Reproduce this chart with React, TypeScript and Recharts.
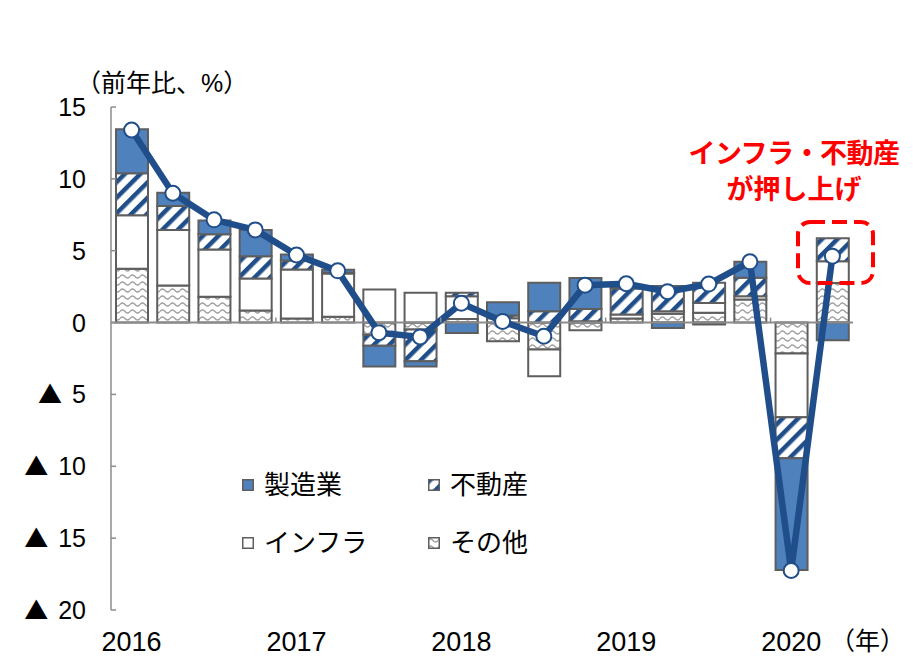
import { ComposedChart, Bar, Line, XAxis, YAxis, ReferenceLine } from 'recharts';

// 四半期（2016Q1〜2020Q2）
const quarters = [
  '2016Q1', '2016Q2', '2016Q3', '2016Q4',
  '2017Q1', '2017Q2', '2017Q3', '2017Q4',
  '2018Q1', '2018Q2', '2018Q3', '2018Q4',
  '2019Q1', '2019Q2', '2019Q3', '2019Q4',
  '2020Q1', '2020Q2',
];
// 寄与度（％ポイント）
const manufacturing = [3.07, 0.93, 0.97, 1.82, 0.42, 0.21, -1.44, -0.35, -0.72, 0.92, 1.98, 2.15, 0.1, -0.37, -0.14, 1.11, -7.78, -1.23];
const realEstate = [2.93, 1.67, 1.05, 1.55, 0.62, 0.05, -0.77, -2.21, 0.24, 0.2, 0.79, 0.85, 1.81, 1.76, 1.4, 1.28, -2.86, 1.59];
const infrastructure = [3.72, 3.86, 3.3, 2.23, 3.42, 3.02, 2.3, 2.07, 1.58, 0.3, -1.86, 0.1, 0.28, 0.18, 0.69, 0.24, -4.42, 1.52];
const others = [3.74, 2.58, 1.79, 0.84, 0.28, 0.4, -0.84, -0.49, 0.25, -1.3, -1.88, -0.54, 0.28, 0.61, 0.68, 1.6, -2.16, 2.75];
// 固定資産投資（前年比）
const total = [13.4, 9.0, 7.15, 6.45, 4.7, 3.6, -0.7, -1.0, 1.35, 0.08, -0.95, 2.6, 2.7, 2.15, 2.68, 4.23, -17.25, 4.62];

const yTicks = [15, 10, 5, 0, -5, -10, -15, -20];

const data = quarters.map((q, i) => ({
  q,
  mfg: manufacturing[i],
  re: realEstate[i],
  infra: infrastructure[i],
  other: others[i],
  total: total[i],
}));

const FONT = '"Liberation Sans", Arial, "Noto Sans CJK JP", sans-serif';
const CJK = '"Noto Sans CJK JP", sans-serif';
const BLUE = '#4F81BD';
const NAVY = '#1F4E8A';
const EDGE = '#5E5E5E';
const AXIS = '#8C8C8C';

// layout
const W = 913;
const H = 659;
const MARGIN = { top: 107, right: 60, bottom: 9, left: 0 };
const AXIS_X = 111;
const X_AXIS_H = 40;
const PLOT_W = W - MARGIN.right - AXIS_X;
const PLOT_H = H - MARGIN.top - MARGIN.bottom - X_AXIS_H;
const Y_MAX = 15;
const Y_MIN = -20;
const ZERO_Y = MARGIN.top + (Y_MAX / (Y_MAX - Y_MIN)) * PLOT_H;
const HALF_BAND = PLOT_W / quarters.length / 2;

function YTick({ y, payload }: any) {
  const v = payload.value as number;
  return (
    <g>
      <line x1={AXIS_X} x2={AXIS_X + 5} y1={y} y2={y} stroke={AXIS} strokeWidth={1.5} />
      <text x={AXIS_X - 25} y={y} dy="0.36em" textAnchor="end" fontSize={25} fill="#000" fontFamily={FONT}>
        {v < 0 && <tspan fontFamily={CJK} fontSize={24}>▲</tspan>}
        <tspan dx={v < 0 ? 10 : 0}>{Math.abs(v)}</tspan>
      </text>
    </g>
  );
}

function XTick({ x, y, payload, index }: any) {
  const q = payload.value as string;
  if (!q.endsWith('Q1')) return <g />;
  return (
    <g>
      {index > 0 && (
        <line x1={x - HALF_BAND} x2={x - HALF_BAND} y1={ZERO_Y} y2={ZERO_Y - 5} stroke={AXIS} strokeWidth={1.5} />
      )}
      <text x={x} y={y} dy={41} textAnchor="middle" fontSize={27} fill="#000" fontFamily={FONT}>
        {q.slice(0, 4)}
      </text>
    </g>
  );
}

function Swatch({ fill }: { fill: string }) {
  return (
    <svg width={12} height={12} style={{ display: 'block' }}>
      <rect x={0.75} y={0.75} width={10.5} height={10.5} fill={fill} stroke={EDGE} strokeWidth={1.5} />
    </svg>
  );
}

function LegendItem({ left, top, fill, label }: { left: number; top: number; fill: string; label: string }) {
  return (
    <div style={{ position: 'absolute', left, top, height: 30, display: 'flex', alignItems: 'center' }}>
      <Swatch fill={fill} />
      <span style={{ marginLeft: 10, fontSize: 26, lineHeight: '30px', fontFamily: FONT }}>{label}</span>
    </div>
  );
}

export default function App() {
  return (
    <div style={{ position: 'absolute', left: 0, top: 0, width: W, height: H, background: '#fff', fontFamily: FONT }}>
      <svg width={0} height={0} style={{ position: 'absolute' }}>
        <defs>
          <pattern id="hatch" patternUnits="userSpaceOnUse" width={11} height={11} patternTransform="rotate(45)">
            <rect width={11} height={11} fill="#fff" />
            <rect x={0} y={0} width={4.5} height={11} fill={NAVY} />
          </pattern>
          <pattern id="wave" patternUnits="userSpaceOnUse" width={10} height={7}>
            <rect width={10} height={7} fill="#fff" />
            <path d="M0 3.5 Q2.5 0.5 5 3.5 T10 3.5" fill="none" stroke="#A0A0A0" strokeWidth={1.4} />
          </pattern>
        </defs>
      </svg>

      <ComposedChart width={W} height={H} data={data} stackOffset="sign" margin={MARGIN}>
        <XAxis dataKey="q" interval={0} axisLine={false} tickLine={false} tickSize={0} tickMargin={0}
          height={X_AXIS_H} tick={<XTick />} />
        <YAxis domain={[Y_MIN, Y_MAX]} ticks={yTicks} interval={0} width={AXIS_X} allowDataOverflow
          axisLine={{ stroke: AXIS, strokeWidth: 1.5 }} tickLine={false} tick={<YTick />} />
        <Bar dataKey="other" stackId="a" fill="url(#wave)" stroke={EDGE} strokeWidth={2} barSize={32} isAnimationActive={false} />
        <Bar dataKey="infra" stackId="a" fill="#fff" stroke={EDGE} strokeWidth={2} barSize={32} isAnimationActive={false} />
        <Bar dataKey="re" stackId="a" fill="url(#hatch)" stroke={EDGE} strokeWidth={2} barSize={32} isAnimationActive={false} />
        <Bar dataKey="mfg" stackId="a" fill={BLUE} stroke={EDGE} strokeWidth={2} barSize={32} isAnimationActive={false} />
        <ReferenceLine y={0} stroke={AXIS} strokeWidth={2} />
        <Line dataKey="total" type="linear" stroke={NAVY} strokeWidth={6.5}
          dot={{ r: 7.5, fill: '#fff', stroke: NAVY, strokeWidth: 2 }} isAnimationActive={false} />
      </ComposedChart>

      {/* 強調枠 */}
      <svg width={W} height={H} style={{ position: 'absolute', left: 0, top: 0, pointerEvents: 'none' }}>
        <rect x={798} y={222} width={75} height={61} rx={12} ry={12}
          fill="none" stroke="#FF0000" strokeWidth={4} strokeDasharray="15 7" />
      </svg>

      <div style={{ position: 'absolute', left: 76, top: 68, fontSize: 25, lineHeight: '30px' }}>（前年比、%）</div>
      <div style={{ position: 'absolute', left: 830, top: 626, fontSize: 25, lineHeight: '30px' }}>（年）</div>

      <div style={{ position: 'absolute', left: 680, top: 137, width: 228, textAlign: 'center', color: '#FF0000',
        fontWeight: 'bold', fontSize: 27, lineHeight: '30px', letterSpacing: -0.5, fontFamily: CJK }}>
        インフラ・不動産
      </div>
      <div style={{ position: 'absolute', left: 680, top: 173, width: 228, textAlign: 'center', color: '#FF0000',
        fontWeight: 'bold', fontSize: 27, lineHeight: '30px', fontFamily: CJK }}>
        が押し上げ
      </div>

      <LegendItem left={242} top={470} fill={BLUE} label="製造業" />
      <LegendItem left={428} top={470} fill="url(#hatch)" label="不動産" />
      <LegendItem left={242} top={528} fill="#fff" label="インフラ" />
      <LegendItem left={428} top={528} fill="url(#wave)" label="その他" />
    </div>
  );
}
